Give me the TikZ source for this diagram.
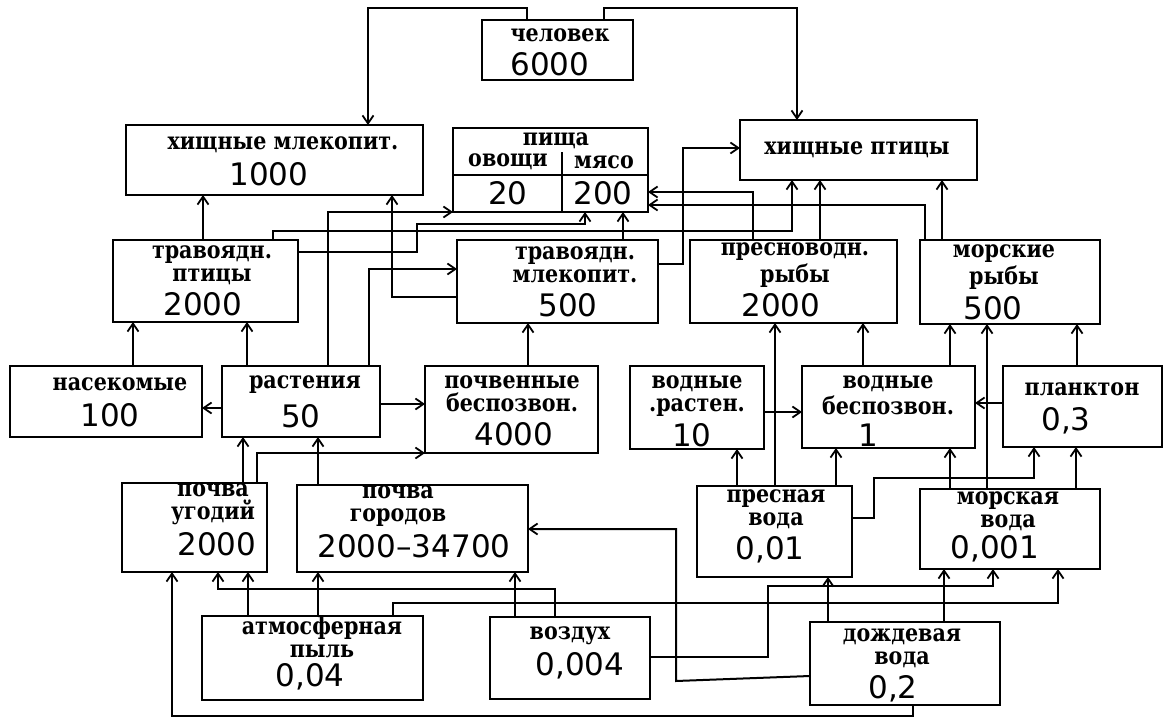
\documentclass[tikz,border=0pt]{standalone}
\usepackage{fontspec}
\newfontfamily\wordfont{DejaVu Serif}[FakeStretch=0.86]
\newfontfamily\numfont{DejaVu Sans}
\usetikzlibrary{arrows.meta}
\newcommand\bx[5]{\node[box, minimum width=#4pt-#2pt, minimum height=#5pt-#3pt] (#1) at ({(#2+#4)/2},{(#3+#5)/2}) {};}
\begin{document}
\begin{tikzpicture}[x=1pt,y=-1pt,
  box/.style={draw, line width=2.6pt, inner sep=0pt, outer sep=0pt, rectangle},
  conn/.style={line width=2pt},
  arr/.style={conn, -{Straight Barb[length=8pt,width=11pt,line width=1.8pt]}},
  lab/.style={font=\wordfont\bfseries\fontsize{24}{20}\selectfont, align=center, inner sep=0pt},
  num/.style={font=\numfont\fontsize{31}{31}\selectfont, inner sep=0pt},
]
\useasboundingbox[fill=white] (0,0) rectangle (1168,720);
% boxes
\bx{chel}{482}{20}{633}{80}
\bx{hm}{126}{125}{423}{195}
\bx{food}{453}{128}{648}{212}
\bx{hp}{740}{120}{977}{180}
\bx{tp}{113}{240}{298}{322}
\bx{tm}{457}{240}{658}{323}
\bx{pr}{690}{240}{897}{323}
\bx{mr}{920}{240}{1100}{324}
\bx{ins}{10}{366}{202}{437}
\bx{pl}{222}{366}{380}{437}
\bx{sb}{425}{366}{598}{453}
\bx{wp}{630}{366}{764}{449}
\bx{wb}{802}{366}{975}{448}
\bx{plk}{1003}{366}{1162}{447}
\bx{su}{122}{483}{267}{572}
\bx{sg}{297}{485}{528}{572}
\bx{fw}{697}{486}{852}{577}
\bx{sw}{920}{489}{1100}{569}
\bx{dust}{202}{616}{423}{700}
\bx{air}{490}{617}{650}{699}
\bx{rain}{810}{622}{1000}{705}
% food table lines
\draw[conn, line width=2.2pt] (food.west |- 0,175) -- (food.east |- 0,175);
\draw[conn, line width=2.2pt] (food.south -| 562,0) -- (562,152);
% texts
\node[lab] (l1) at (560,35) {человек};
\node[num] (n1) at (550,64) {6000};
\node[lab] (l2) at (283,145) {хищные млекопит.};
\node[num] (n2) at (269,174) {1000};
\node[lab] (l3) at (556,141) {пища};
\node[lab] (l3b) at (508,162) {овощи};
\node[lab] (l3c) at (604,162) {мясо};
\node[num] (n3a) at (508,193) {20};
\node[num] (n3b) at (603,193) {200};
\node[lab] (l4) at (857,150) {хищные птицы};
\node[lab] (l5) at (212,265) {травоядн.\\[3pt]птицы};
\node[num] (n5) at (203,304) {2000};
\node[lab] (l6) at (575,265) {травоядн.\\[3pt]млекопит.};
\node[num] (n6) at (568,305) {500};
\node[lab] (l7) at (795,265) {пресноводн.\\[3pt]рыбы};
\node[num] (n7) at (781,305) {2000};
\node[lab] (l8) at (1004,267) {морские\\[3pt]рыбы};
\node[num] (n8) at (993,308) {500};
\node[lab] (l9) at (120,384) {насекомые};
\node[num] (n9) at (110,415) {100};
\node[lab] (l10) at (305,385) {растения};
\node[num] (n10) at (301,416) {50};
\node[lab] (l11) at (512,394) {почвенные\\[3pt]беспозвон.};
\node[num] (n11) at (514,434) {4000};
\node[lab] (l12) at (697,396) {водные\\[3pt].растен.};
\node[num] (n12) at (692,435) {10};
\node[lab] (l13) at (888,395) {водные\\[3pt]беспозвон.};
\node[num] (n13) at (868,435) {1};
\node[lab] (l14) at (1082,389) {планктон};
\node[num] (n14) at (1066,421) {0,3};
\node[lab] (l15) at (213,504) {почва\\[3pt]угодий};
\node[num] (n15) at (217,544) {2000};
\node[lab] (l16) at (398,506) {почва\\[3pt]городов};
\node[num] (n16) at (414,546) {2000–34700};
\node[lab] (l17) at (776,509) {пресная\\[3pt]вода};
\node[num] (n17) at (770,550) {0,01};
\node[lab] (l18) at (1008,511) {морская\\[3pt]вода};
\node[num] (n18) at (995,549) {0,001};
\node[lab] (l19) at (322,637) {атмосферная\\[3pt]пыль};
\node[num] (n19) at (310,677) {0,04};
\node[lab] (l20) at (570,636) {воздух};
\node[num] (n20) at (580,666) {0,004};
\node[lab] (l21) at (902,648) {дождевая\\[3pt]вода};
\node[num] (n21) at (893,689) {0,2};
% connectors top
\draw[arr] (chel.north -| 527,0) -- ++(0,-12) -| (hm.north -| 368,0);
\draw[arr] (chel.north -| 604,0) -- ++(0,-12) -| (hp.north -| 797,0);
\draw[arr] (tp.north -| 203,0) -- (hm.south -| 203,0);
\draw[arr] (tm.west |- 0,297) -| (hm.south -| 392,0);
\draw[arr] (ins.north -| 133,0) -- (tp.south -| 133,0);
\draw[arr] (pl.north -| 247,0) -- (tp.south -| 247,0);
\draw[arr] (pl.west |- 0,408) -- (ins.east |- 0,408);
\draw[arr] (pl.east |- 0,404) -- (sb.west |- 0,404);
\draw[arr] (su.north -| 243,0) -- (pl.south -| 243,0);
\draw[arr] (su.north -| 257,0) |- (sb.south west);
\draw[arr] (sg.north -| 318,0) -- (pl.south -| 318,0);
\draw[arr] (pl.north -| 328,0) |- (food.south west);
\draw[arr] (pl.north -| 369,0) |- (tm.west |- 0,269);
\draw[arr] (tp.north -| 273,0) -- ++(0,-9) -| (hp.south -| 792,0);
\draw[arr] (tp.east |- 0,252) -| (417,224) -| (food.south -| 585,0);
\draw[arr] (tm.north -| 623,0) -- (food.south -| 623,0);
\draw[arr] (tm.east |- 0,264) -- ++(25,0) |- (hp.west |- 0,148);
\draw[arr] (pr.north -| 820,0) -- (hp.south -| 820,0);
\draw[arr] (mr.north -| 942,0) -- (hp.south -| 942,0);
\draw[arr] (pr.north -| 753,0) |- (food.east |- 0,192);
\draw[arr] (mr.north -| 925,0) |- (food.east |- 0,205);
% middle
\draw[arr] (sb.north -| 528,0) -- (tm.south -| 528,0);
\draw[arr] (fw.north -| 775,0) -- (pr.south -| 775,0);
\draw[arr] (wb.north -| 863,0) -- (pr.south -| 863,0);
\draw[arr] (wb.north -| 950,0) -- (mr.south -| 950,0);
\draw[arr] (sw.north -| 987,0) -- (mr.south -| 987,0);
\draw[arr] (plk.north -| 1077,0) -- (mr.south -| 1077,0);
\draw[arr] (plk.west |- 0,403) -- (wb.east |- 0,403);
\draw[arr] (wp.east |- 0,412) -- (wb.west |- 0,412);
\draw[arr] (fw.north -| 737,0) -- (wp.south -| 737,0);
\draw[arr] (fw.north -| 836,0) -- (wb.south -| 836,0);
\draw[arr] (sw.north -| 950,0) -- (wb.south -| 950,0);
\draw[arr] (fw.east |- 0,518) -| (874,478) -| (plk.south -| 1034,0);
\draw[arr] (sw.north -| 1076,0) -- (plk.south -| 1076,0);
% bottom
\draw[arr] (dust.north -| 248,0) -- (su.south -| 248,0);
\draw[arr] (dust.north -| 318,0) -- (sg.south -| 318,0);
\draw[arr] (air.north -| 555,0) -- ++(0,-28) -| (su.south -| 218,0);
\draw[arr] (air.north -| 515,0) -- (sg.south -| 515,0);
\draw[arr] (dust.north -| 393,0) -- ++(0,-13) -| (sw.south -| 1058,0);
\draw[arr] (air.east |- 0,657) -| (768,586) -| (sw.south -| 993,0);
\draw[arr] (rain.north -| 828,0) -- (fw.south -| 828,0);
\draw[arr] (rain.north -| 944,0) -- (sw.south -| 944,0);
\draw[arr] (rain.south -| 913,0) |- (172,716) -- (su.south -| 172,0);
\draw[arr] (rain.west |- 0,676) -- (676,681) |- (sg.east |- 0,529);
\end{tikzpicture}
\end{document}
